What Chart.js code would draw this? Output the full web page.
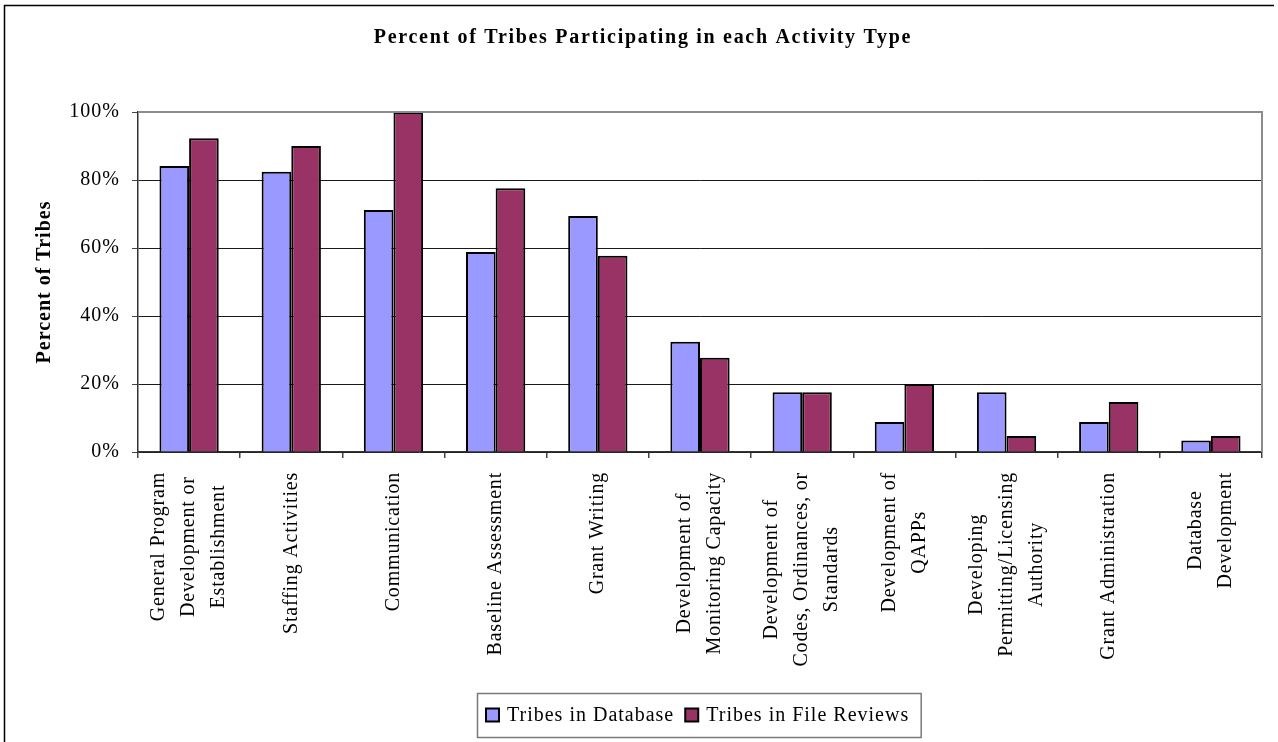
<!DOCTYPE html>
<html>
<head>
<meta charset="utf-8">
<script src="https://cdn.jsdelivr.net/npm/chart.js@4.4.1/dist/chart.umd.min.js"></script>
<style>
  html, body { margin: 0; padding: 0; background: #ffffff; }
  #wrap { width: 1278px; height: 742px; position: relative; }
</style>
</head>
<body>
<div id="wrap"><canvas id="c" width="1278" height="742"></canvas></div>
<script>
// ---- data -------------------------------------------------------------
const chartTitle = 'Percent of Tribes Participating in each Activity Type';
const yAxisTitle = 'Percent of Tribes';

const categories = [
  ['General Program', 'Development or', 'Establishment'],
  ['Staffing Activities'],
  ['Communication'],
  ['Baseline Assessment'],
  ['Grant Writing'],
  ['Development of', 'Monitoring Capacity'],
  ['Development of', 'Codes, Ordinances, or', 'Standards'],
  ['Development of', 'QAPPs'],
  ['Developing', 'Permitting/Licensing', 'Authority'],
  ['Grant Administration'],
  ['Database', 'Development']
];

const seriesNames = ['Tribes in Database', 'Tribes in File Reviews'];
const tribesInDatabase    = [84.1, 82.4, 71.2, 58.8, 69.4, 32.4, 17.6, 8.8, 17.6, 8.8, 3.4];
const tribesInFileReviews = [92.3, 90.0, 100.0, 77.6, 57.7, 27.7, 17.6, 20.0, 4.7, 14.7, 4.7];

const yTickValues = [0, 20, 40, 60, 80, 100];

// ---- styling ----------------------------------------------------------
const SERIF = '"Liberation Serif", "Times New Roman", serif';
const seriesColors = ['#9999FF', '#993366'];

// Frame, heading, rotated category labels and boxed legend
const decorations = {
  id: 'decorations',
  beforeDraw(chart) {
    const ctx = chart.ctx;
    ctx.save();
    ctx.fillStyle = '#ffffff';
    ctx.fillRect(0, 0, chart.width, chart.height);
    ctx.restore();
    ctx.letterSpacing = '1px';
  },
  afterDraw(chart) {
    const ctx = chart.ctx;
    const area = chart.chartArea;
    const xScale = chart.scales.x;

    ctx.save();

    // outer frame
    ctx.strokeStyle = '#000000';
    ctx.lineWidth = 1.5;
    ctx.beginPath();
    ctx.moveTo(4.5, 760);
    ctx.lineTo(4.5, 5.5);
    ctx.lineTo(1274, 5.5);
    ctx.stroke();

    // plot area top and right edges
    ctx.strokeStyle = '#8c8c8c';
    ctx.lineWidth = 2;
    ctx.beginPath();
    ctx.moveTo(area.left, area.top);
    ctx.lineTo(area.right, area.top);
    ctx.lineTo(area.right, area.bottom);
    ctx.stroke();

    // heading
    ctx.fillStyle = '#000000';
    ctx.font = 'bold 20px ' + SERIF;
    ctx.letterSpacing = '1.7px';
    ctx.textAlign = 'center';
    ctx.textBaseline = 'middle';
    ctx.fillText(chartTitle, 643, 38);

    // category labels, rotated, lines centred within each block
    ctx.font = '20px ' + SERIF;
    ctx.letterSpacing = '0.8px';
    const lineGap = 30;
    const labelTop = 472;
    categories.forEach((lines, i) => {
      const cx = xScale.getPixelForValue(i);
      const maxW = Math.max(...lines.map(l => ctx.measureText(l).width));
      const cy = labelTop + maxW / 2;
      lines.forEach((line, j) => {
        const off = (j - (lines.length - 1) / 2) * lineGap;
        ctx.save();
        ctx.translate(cx + off, cy);
        ctx.rotate(-Math.PI / 2);
        ctx.textAlign = 'center';
        ctx.textBaseline = 'middle';
        ctx.fillText(line, 0, 0);
        ctx.restore();
      });
    });

    // legend
    ctx.font = '20px ' + SERIF;
    ctx.letterSpacing = '1px';
    const sw = 13, gapSwatch = 8, gapItem = 11, padL = 8.5, padR = 12;
    const widths = seriesNames.map(n => ctx.measureText(n).width);
    let total = padL + padR;
    widths.forEach((w, k) => { total += sw + gapSwatch + w + (k < widths.length - 1 ? gapItem : 0); });
    const boxX = Math.round(699 - total / 2) + 0.5;
    const boxY = 693.5, boxH = 44;
    ctx.strokeStyle = '#7a7a7a';
    ctx.lineWidth = 1.5;
    ctx.strokeRect(boxX, boxY, total, boxH);
    let x = boxX + padL;
    const midY = boxY + boxH / 2;
    seriesNames.forEach((name, k) => {
      ctx.fillStyle = seriesColors[k];
      ctx.fillRect(x, midY - 7, sw, sw);
      ctx.strokeStyle = '#000000';
      ctx.lineWidth = 2;
      ctx.strokeRect(x, midY - 7, sw, sw);
      x += sw + gapSwatch;
      ctx.fillStyle = '#000000';
      ctx.textAlign = 'left';
      ctx.textBaseline = 'middle';
      ctx.fillText(name, x, midY);
      x += widths[k] + gapItem;
    });

    ctx.restore();
  }
};

new Chart(document.getElementById('c'), {
  type: 'bar',
  data: {
    labels: categories,
    datasets: [
      {
        label: seriesNames[0],
        data: tribesInDatabase,
        backgroundColor: seriesColors[0],
        borderColor: '#000000',
        borderWidth: 2
      },
      {
        label: seriesNames[1],
        data: tribesInFileReviews,
        backgroundColor: seriesColors[1],
        borderColor: '#000000',
        borderWidth: 2
      }
    ]
  },
  options: {
    responsive: false,
    devicePixelRatio: 1,
    animation: false,
    events: [],
    layout: { padding: { top: 112, right: 16, bottom: 0, left: 0 } },
    datasets: {
      bar: { categoryPercentage: 0.58, barPercentage: 1.0 }
    },
    plugins: {
      legend: { display: false },
      title: { display: false },
      tooltip: { enabled: false }
    },
    scales: {
      x: {
        type: 'category',
        offset: true,
        ticks: { display: false },
        grid: {
          display: true,
          drawOnChartArea: false,
          offset: true,
          drawTicks: true,
          tickLength: 6,
          tickColor: '#444444',
          lineWidth: 1.5
        },
        border: { display: true, color: '#333333', width: 1.5 },
        afterFit(scale) { scale.height = 290; }
      },
      y: {
        min: 0,
        max: 100,
        afterBuildTicks(scale) { scale.ticks = yTickValues.map(v => ({ value: v })); },
        ticks: {
          color: '#000000',
          padding: 12,
          font: { family: SERIF, size: 20 },
          callback: v => v + '%'
        },
        grid: {
          color: c => (c.tick && c.tick.value === 100) ? 'rgba(0,0,0,0)' : '#1a1a1a',
          lineWidth: 1,
          drawTicks: true,
          tickLength: 6,
          tickColor: '#444444'
        },
        border: { display: true, color: '#333333', width: 1.5 },
        title: {
          display: true,
          text: yAxisTitle,
          color: '#000000',
          font: { family: SERIF, size: 20, weight: 'bold' },
          padding: { top: 33, bottom: 0 }
        },
        afterFit(scale) { scale.width = 138; }
      }
    }
  },
  plugins: [decorations]
});
</script>
</body>
</html>
